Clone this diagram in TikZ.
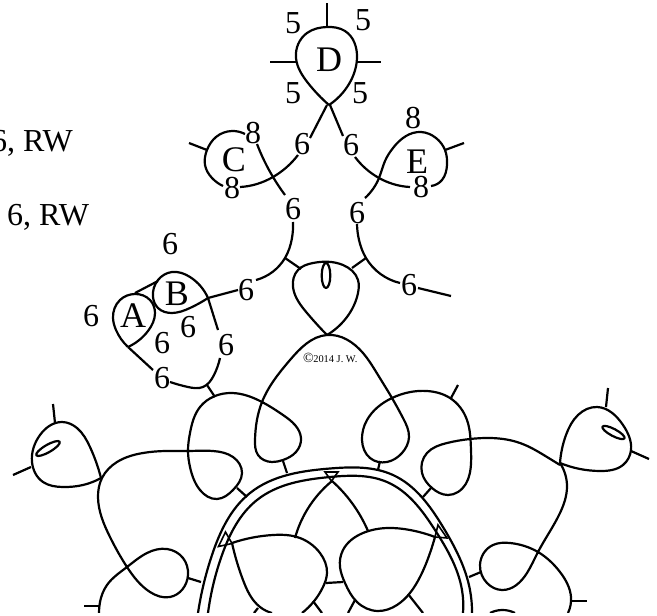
\documentclass[tikz,border=0pt]{standalone}
\usepackage{fontspec}
\usetikzlibrary{hobby}
\setmainfont{Liberation Serif}
\newcommand{\fsA}{\fontsize{32}{32}\selectfont}
\newcommand{\fsB}{\fontsize{36}{36}\selectfont}
\tikzset{
  ln/.style={line width=2.2pt,line cap=butt,line join=round,black,use Hobby shortcut},
  num/.style={inner sep=0pt,font=\fsA},
  let/.style={inner sep=0pt,font=\fsB}
}
\begin{document}
\begin{tikzpicture}[x=1pt,y=-1pt]
\useasboundingbox (0,0) rectangle (657,616);
\begin{scope}
\clip (0,0) rectangle (657,612.7);
% D ring
\draw[ln] (329,105)..(308,83)..(296,58)..(307,33)..(327,27)..(345,31)..(357,58)..(349,84)..(329,105);
\draw[ln] (327,27) -- (327,3);
\draw[ln] (296,62) -- (270,62);
\draw[ln] (357,62) -- (381,62);
% C ring
\draw[ln] (285,195)..(273,177)..(257,144);
\draw[ln] (245,134)..(232,131)..(216,137)..(207,150)..(205,165)..(212,178)..(223,186);
\draw[ln] (240,187)..(257,184)..(273,177)..(298,155);
\draw[ln] (310,138)..(327,105);
\draw[ln] (207,150) -- (189,143);
% left branch
\draw[ln] (293,222)..(292,238)..(285,258)..(256,280);
\draw[ln] (285,258) -- (301,269);
\draw[ln] (238,290) -- (208,298);
% right upper
\draw[ln] (330,105)..(343,136);
\draw[ln] (355,157)..(379,178)..(393,184)..(410,187);
\draw[ln] (431,186)..(442,180)..(447,165)..(445,150)..(436,138)..(421,132)..(406,136)..(393,148)..(385,161)..(379,178)..(365,198);
\draw[ln] (445,150) -- (464,143);
% right branch
\draw[ln] (357,224)..(359,240)..(366,258)..(400,283);
\draw[ln] (366,258) -- (352,268);
\draw[ln] (418,288) -- (451,296);
% centre ring
\draw[ln] (327,335)..(307,313)..(293,287)..(298,270)..(313,263)..(343,265)..(358,280)..(358,293)..(347,317)..(327,335);
\draw[ln] (326,275.5) ellipse [x radius=4.3,y radius=12.5];
% A, B
\draw[ln] (128,347)..(116,330)..(113,318)..(120,300)..(135,294)..(150,300)..(155,313)..(148,331)..(128,347);
\draw[ln] (135,293) -- (158,281);
\draw[ln] (208,298)..(190,277)..(172,272)..(158,280)..(153,297)..(158,308)..(172,313)..(190,308)..(208,298);
\draw[ln] (208,298)..(218,330);
\draw[ln] (128,347)..(153,370);
\draw[ln] (170,382)..(188,387)..(203,387)..(214,375)..(220,358);
\draw[ln] (207,385) -- (215,397);
% main thread
\draw[ln] (99,613)..(100,602)..(107,585)..(127,567)..(147,553)..(167,549)..(183,558)..(188,575)..(170,597)..(150,592)..(127,567)..(110,537)..(98,497)..(102,478)..(117,462)..(143,453)..(165,451)..(188,451)..(213,451)..(233,457)..(242,473)..(233,490)..(217,499)..(200,490)..(190,467)..(188,451)..(190,433)..(200,407)..(232,393)..(262,402)..(283,415)..(295,425)..(301,438)..(296,452)..(283,460)..(272,462)..(258,455)..(255,440)..(262,402)..(290,360)..(327,335)..(363,353)..(378,375)..(392,398)..(403,418)..(409,437)..(402,453)..(387,462)..(370,458)..(362,440)..(367,420)..(392,398)..(427,391)..(450,398)..(467,420)..(471,450)..(458,492)..(448,495)..(432,488)..(422,473)..(427,453)..(447,443)..(470,439)..(490,438)..(520,443)..(547,457)..(560,465);
\draw[ln] (560,463)..(567,487)..(560,513)..(538,552)..(527,573)..(502,590)..(487,583)..(480,565)..(493,545)..(510,543)..(538,552)..(560,572)..(571,597)..(568,613);
% stems of large rings
\draw[ln] (99,606) -- (84,606);
\draw[ln] (188,578) -- (201,582);
\draw[ln] (237,488) -- (247,497);
\draw[ln] (283,461) -- (287,473);
\draw[ln] (380,461) -- (378,470);
\draw[ln] (431,488) -- (423,497);
\draw[ln] (451,398) -- (458,385);
\draw[ln] (481,572) -- (469,577);
\draw[ln] (571,601) -- (587,601);
\draw[ln] (490,613)..(502,610)..(515,613);
% small left ring
\draw[ln] (101,478)..(90,447)..(77,428)..(62,422)..(40,435)..(32,462)..(43,482)..(63,487)..(83,485)..(101,478);
\draw[ln] (55,423) -- (53,404);
\draw[ln] (31,467) -- (13,475);
\draw[ln,rotate around={30:(48,448.5)}] (48,448.5) ellipse [x radius=13.5,y radius=3.7];
% small right ring
\draw[ln] (560,463)..(566,435)..(578,415)..(597,407)..(623,425)..(631,450)..(623,465)..(600,471)..(580,469)..(560,463);
\draw[ln] (606,407) -- (608,388);
\draw[ln] (631,451) -- (649,459);
\draw[ln,rotate around={-28:(613.5,432.5)}] (613.5,432.5) ellipse [x radius=12.5,y radius=3.5];
% double arc
\draw[ln] (198,613)..(212,555)..(250,493)..(330,468.5)..(393,475)..(443,527)..(470,590)..(472,613);
\draw[ln] (208,613)..(222,555)..(257,500)..(330,477)..(387,482)..(435,530)..(462,590)..(463,613);
% triangles
\draw[line width=1.6pt,line join=miter] (225.5,532) -- (218.5,546.5) -- (232,543.5) -- cycle;
\draw[line width=1.6pt,line join=miter] (325,472) -- (338,472) -- (331.5,481) -- cycle;
\draw[line width=1.6pt,line join=miter] (438,525) -- (435,537) -- (447,538) -- cycle;
% inner rings
\draw[ln] (272,613)..(260,607)..(243,580)..(232,543);
\draw[ln] (232,543)..(273,535)..(297,537)..(320,553)..(327,573)..(323,587)..(302,613);
\draw[ln] (435,537)..(410,530)..(388,528)..(363,533)..(343,550)..(340,567)..(345,583)..(357,602)..(378,611)..(397,605)..(420,577)..(430,553)..(435,537);
\draw[ln] (295,538)..(307,510)..(332,481);
\draw[ln] (368,531)..(352,503)..(332,481);
\draw[ln] (258,608) -- (254,613);
\draw[ln] (313,601) -- (322,613);
\draw[ln] (326,583) -- (343,582);
\draw[ln] (355,600) -- (348,613);
\draw[ln] (408,594) -- (423,613);
\end{scope}
% labels
\node[num,anchor=east] (t1) at (73,143) {6, RW};
\node[num,anchor=west] (t2) at (7,217) {6, RW};
\node[num] (d1) at (293,23) {5};
\node[num] (d2) at (293,93) {5};
\node[num] (d3) at (363,20) {5};
\node[num] (d4) at (360,93) {5};
\node[let] (D) at (329,60) {D};
\node[let] (C) at (234,160) {C};
\node[let] (E) at (417,162) {E};
\node[let] (B) at (177,294) {B};
\node[let] (A) at (133,316) {A};
\node[num] (c1) at (253,133) {8};
\node[num] (c2) at (232,188) {8};
\node[num] (e1) at (413,118) {8};
\node[num] (e2) at (421,187) {8};
\node[num] (n1) at (302,144) {6};
\node[num] (n2) at (351,145) {6};
\node[num] (n3) at (293,209) {6};
\node[num] (n4) at (357,213) {6};
\node[num] (n5) at (246,290) {6};
\node[num] (n6) at (409,285) {6};
\node[num] (n7) at (170,244) {6};
\node[num] (n8) at (91,316) {6};
\node[num] (n9) at (188,327) {6};
\node[num] (n10) at (162,343) {6};
\node[num] (n11) at (162,378) {6};
\node[num] (n12) at (226,345) {6};
\node[inner sep=0pt,anchor=west] (cp) at (303,358) {\fontsize{14}{14}\selectfont ©\kern-0.5pt\fontsize{10.4}{10.4}\selectfont 2014 J. W.};
\end{tikzpicture}
\end{document}
